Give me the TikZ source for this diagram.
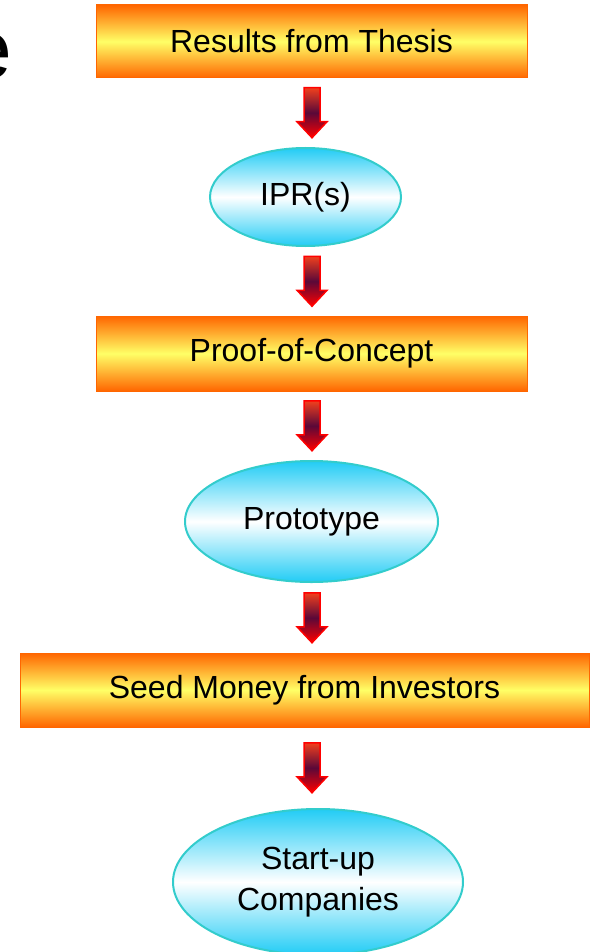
\documentclass[tikz,border=0pt]{standalone}
\usepackage{fontspec}
\setmainfont{Liberation Sans}
\usetikzlibrary{shapes.geometric,calc}

\definecolor{boxorange}{HTML}{FF6600}
\definecolor{boxyellow}{HTML}{FFFF66}
\definecolor{ovalcyan}{HTML}{22CCF5}
\definecolor{ovalrim}{HTML}{33CCCC}
\definecolor{arrowtop}{HTML}{F0401E}
\definecolor{arrowmid}{HTML}{5A0838}
\definecolor{arrowrim}{HTML}{FF0000}

\tikzset{
  stagebox/.style={rectangle,draw=boxorange,line width=1pt,top color=boxorange,bottom color=boxorange,middle color=boxyellow,inner sep=0pt,font=\fontsize{32}{41}\selectfont},
  stageoval/.style={ellipse,draw=ovalrim,line width=2pt,top color=ovalcyan,bottom color=ovalcyan,middle color=white,inner sep=0pt,align=center,font=\fontsize{32}{41}\selectfont},
  flowarrow/.style={draw=arrowrim,line width=1.5pt,top color=arrowtop,bottom color=red,middle color=arrowmid}
}

% block arrow half way between two stages
\newcommand{\stagearrow}[2]{%
  \coordinate (#1-#2) at ($(#1.south)!0.5!(#2.north)$);
  \shade[flowarrow] ($(axis |- #1-#2)+(-8,-25)$) -- ++(16,0) -- ++(0,34) -- ++(7,0)
    -- ++(-15,16) -- ++(-15,-16) -- ++(7,0) -- cycle;
}

\begin{document}
\begin{tikzpicture}[x=1pt,y=-1pt]
    \useasboundingbox (0,0) rectangle (590,952);
    \coordinate (axis) at (312,0);
    \node[anchor=base east,font=\fontsize{84}{84}\selectfont] (title) at (15.5,79) {e};
    \node[stagebox,minimum width=431pt,minimum height=73pt] (thesis) at (311.5,41.5) {Results from Thesis};
    \node[stageoval,minimum width=191pt,minimum height=98pt] (ipr) at (305.5,197) {IPR(s)};
    \node[stagebox,minimum width=431pt,minimum height=75pt] (concept) at (311.5,353.5) {Proof-of-Concept};
    \node[stageoval,minimum width=253pt,minimum height=121pt] (proto) at (311.5,521.5) {Prototype};
    \node[stagebox,minimum width=569pt,minimum height=74pt] (seed) at (304.5,690) {Seed Money from Investors};
    \node[stageoval,minimum width=290pt,minimum height=146pt] (startup) at (318,882) {Start-up\\Companies};
    \stagearrow{thesis}{ipr}
    \stagearrow{ipr}{concept}
    \stagearrow{concept}{proto}
    \stagearrow{proto}{seed}
    \stagearrow{seed}{startup}
\end{tikzpicture}
\end{document}
